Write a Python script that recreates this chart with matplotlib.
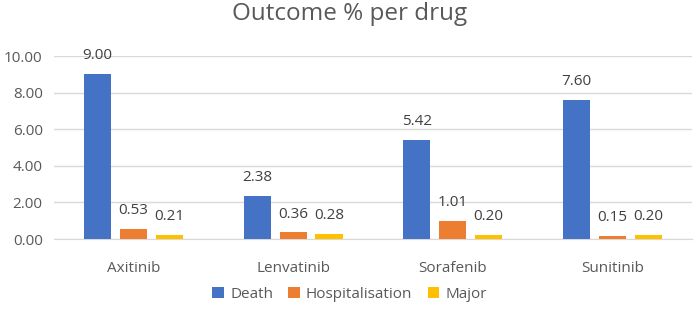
import matplotlib
matplotlib.use("Agg")
import matplotlib.pyplot as plt
import numpy as np

plt.rcParams['font.family'] = ['Open Sans', 'DejaVu Sans']

drugs = ["Axitinib", "Lenvatinib", "Sorafenib", "Sunitinib"]
series_names = ["Death", "Hospitalisation", "Major"]
death = [9.00, 2.38, 5.42, 7.60]
hosp = [0.53, 0.36, 1.01, 0.15]
major = [0.21, 0.28, 0.20, 0.20]
colors = ["#4472C4", "#ED7D31", "#FFC000"]

fig = plt.figure(figsize=(6.99, 3.15), dpi=100)
ax = fig.add_axes([0.077, 0.241, 0.913, 0.581])

x = np.arange(len(drugs))
w = 0.17
step = 0.225
for i, (vals, name) in enumerate(zip([death, hosp, major], series_names)):
    pos = x + (i - 1) * step
    bars = ax.bar(pos, vals, w, color=colors[i], label=name, zorder=3)
    for p, v in zip(pos, vals):
        ax.text(p, v + 0.6, f"{v:.2f}", ha="center", va="bottom", fontsize=11,
                color="#404040", clip_on=False)

ax.set_xlim(-0.5, len(drugs) - 0.5)
ax.set_ylim(0, 10)
ax.set_yticks(np.arange(0, 10.01, 2))
ax.set_yticklabels([f"{v:.2f}" for v in np.arange(0, 10.01, 2)])
ax.set_xticks(x)
ax.set_xticklabels(drugs)
ax.tick_params(axis='both', length=0, labelsize=11, labelcolor="#595959")
ax.tick_params(axis='x', pad=16)
ax.tick_params(axis='y', pad=8)
ax.grid(axis='y', color="#D9D9D9", linewidth=1, zorder=0)
for s in ["top", "right", "left"]:
    ax.spines[s].set_visible(False)
ax.spines["bottom"].set_color("#D9D9D9")

fig.text(0.5, 0.955, "Outcome % per drug", ha="center", va="center", fontsize=17.5, color="#595959")

fig.legend(loc="center", bbox_to_anchor=(0.5, 0.065), ncol=3, frameon=False,
           fontsize=11, labelcolor="#595959", handlelength=0.75, handleheight=0.75,
           handletextpad=0.4, columnspacing=1.0)

fig.savefig("out.png", dpi=100, facecolor="white")
